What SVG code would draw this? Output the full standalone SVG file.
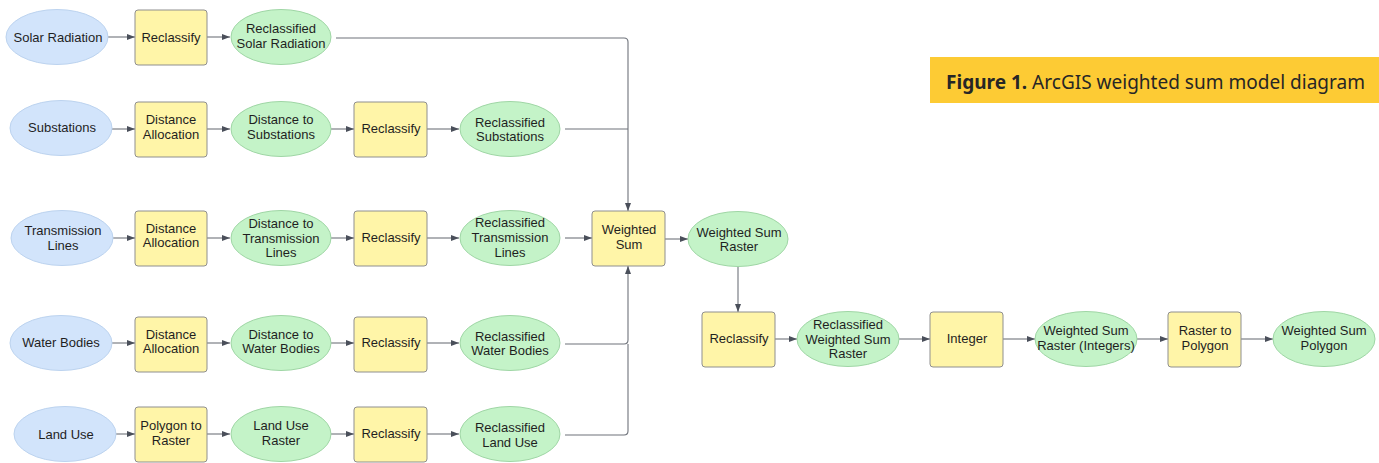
<svg xmlns="http://www.w3.org/2000/svg" width="1379" height="463" viewBox="0 0 1379 463">
<defs>
<marker id="ah" markerWidth="8" markerHeight="6" refX="8" refY="3" orient="auto" markerUnits="userSpaceOnUse">
<path d="M0,0 L8,3 L0,6 Z" fill="#4a4f5a"/>
</marker>
<style>
.in{fill:#d2e4fb;stroke:#bcd3ef;stroke-width:1}
.out{fill:#c4f3c8;stroke:#9fd6a5;stroke-width:1}
.tool{fill:#fff5a8;stroke:#8f8f8f;stroke-width:1}
text{font-family:"Liberation Sans",Arial,sans-serif;font-size:13px;fill:#1f1f1f;text-anchor:middle}
.c{fill:none;stroke:#6f737b;stroke-width:1.1}
.a{marker-end:url(#ah)}
.title{font-family:"Noto Sans","Open Sans",sans-serif;font-size:19px;fill:#262626;text-anchor:start}
</style>
</defs>
<rect width="1379" height="463" fill="#ffffff"/>

<g id="title">
<rect x="930" y="57" width="449" height="46" fill="#fdcb34"/>
<text class="title" x="946" y="89" textLength="419" lengthAdjust="spacingAndGlyphs"><tspan font-weight="bold">Figure 1.</tspan> ArcGIS weighted sum model diagram</text>
</g>

<g id="connectors">
<line class="c a" x1="107" y1="37" x2="135" y2="37"/>
<line class="c a" x1="207" y1="37" x2="230" y2="37"/>
<path class="c a" d="M336,38 H624 Q628,38 628,42 V211"/>

<line class="c a" x1="112" y1="129" x2="135" y2="129"/>
<line class="c a" x1="207" y1="129" x2="230" y2="129"/>
<line class="c a" x1="331" y1="129" x2="354" y2="129"/>
<line class="c a" x1="427" y1="129" x2="459" y2="129"/>
<path class="c" d="M565,129 H628"/>

<line class="c a" x1="112" y1="238" x2="135" y2="238"/>
<line class="c a" x1="207" y1="238" x2="230" y2="238"/>
<line class="c a" x1="331" y1="238" x2="354" y2="238"/>
<line class="c a" x1="427" y1="238" x2="459" y2="238"/>
<line class="c a" x1="565" y1="238" x2="592" y2="238"/>
<line class="c a" x1="665" y1="239" x2="688" y2="239"/>
<line class="c a" x1="738" y1="266" x2="738" y2="312"/>

<line class="c a" x1="112" y1="343" x2="135" y2="343"/>
<line class="c a" x1="207" y1="343" x2="230" y2="343"/>
<line class="c a" x1="331" y1="343" x2="354" y2="343"/>
<line class="c a" x1="427" y1="343" x2="459" y2="343"/>
<path class="c a" d="M565,344 H624 Q628,344 628,340 V266"/>

<line class="c a" x1="115" y1="434" x2="135" y2="434"/>
<line class="c a" x1="207" y1="434" x2="230" y2="434"/>
<line class="c a" x1="331" y1="434" x2="354" y2="434"/>
<line class="c a" x1="427" y1="434" x2="459" y2="434"/>
<path class="c" d="M565,435 H624 Q628,435 628,431 V344"/>

<line class="c a" x1="775" y1="339" x2="797" y2="339"/>
<line class="c a" x1="899" y1="339" x2="930" y2="339"/>
<line class="c a" x1="1003" y1="339" x2="1035" y2="339"/>
<line class="c a" x1="1137" y1="339" x2="1168" y2="339"/>
<line class="c a" x1="1241" y1="339" x2="1273" y2="339"/>
</g>

<g id="solar-radiation"><ellipse class="in" cx="57" cy="37" rx="51" ry="27.5"/><text x="58" y="42">Solar Radiation</text></g>
<g id="reclassify-1"><rect class="tool" x="135" y="10" width="72" height="55" rx="3"/><text x="171" y="42">Reclassify</text></g>
<g id="reclassified-solar"><ellipse class="out" cx="281" cy="37" rx="50" ry="27.5"/><text x="281" y="33">Reclassified</text><text x="281" y="48">Solar Radiation</text></g>

<g id="substations"><ellipse class="in" cx="61" cy="128" rx="51" ry="27.5"/><text x="62" y="132">Substations</text></g>
<g id="distance-allocation-1"><rect class="tool" x="135" y="102" width="72" height="55" rx="3"/><text x="171" y="124">Distance</text><text x="171" y="139">Allocation</text></g>
<g id="distance-substations"><ellipse class="out" cx="281" cy="129" rx="50" ry="27.5"/><text x="281" y="124">Distance to</text><text x="281" y="139">Substations</text></g>
<g id="reclassify-2"><rect class="tool" x="354" y="102" width="73" height="55" rx="3"/><text x="391" y="133">Reclassify</text></g>
<g id="reclassified-substations"><ellipse class="out" cx="510" cy="129" rx="50" ry="27.5"/><text x="510" y="127">Reclassified</text><text x="510" y="141">Substations</text></g>

<g id="transmission-lines"><ellipse class="in" cx="62" cy="238" rx="51" ry="27.5"/><text x="63" y="235">Transmission</text><text x="63" y="250">Lines</text></g>
<g id="distance-allocation-2"><rect class="tool" x="135" y="211" width="72" height="55" rx="3"/><text x="171" y="233">Distance</text><text x="171" y="247">Allocation</text></g>
<g id="distance-transmission"><ellipse class="out" cx="281" cy="238" rx="50" ry="27.5"/><text x="281" y="228">Distance to</text><text x="281" y="243">Transmission</text><text x="281" y="257">Lines</text></g>
<g id="reclassify-3"><rect class="tool" x="354" y="211" width="73" height="55" rx="3"/><text x="391" y="242">Reclassify</text></g>
<g id="reclassified-transmission"><ellipse class="out" cx="510" cy="238" rx="50" ry="27.5"/><text x="510" y="227">Reclassified</text><text x="510" y="242">Transmission</text><text x="510" y="257">Lines</text></g>

<g id="weighted-sum"><rect class="tool" x="592" y="211" width="73" height="55" rx="3"/><text x="629" y="234">Weighted</text><text x="629" y="249">Sum</text></g>
<g id="weighted-sum-raster"><ellipse class="out" cx="738" cy="239" rx="50" ry="27.5"/><text x="739" y="237">Weighted Sum</text><text x="739" y="251">Raster</text></g>

<g id="water-bodies"><ellipse class="in" cx="61" cy="343" rx="51" ry="27.5"/><text x="61" y="347">Water Bodies</text></g>
<g id="distance-allocation-3"><rect class="tool" x="135" y="317" width="72" height="55" rx="3"/><text x="171" y="339">Distance</text><text x="171" y="353">Allocation</text></g>
<g id="distance-water"><ellipse class="out" cx="281" cy="343" rx="50" ry="27.5"/><text x="281" y="339">Distance to</text><text x="281" y="353">Water Bodies</text></g>
<g id="reclassify-4"><rect class="tool" x="354" y="317" width="73" height="55" rx="3"/><text x="391" y="347">Reclassify</text></g>
<g id="reclassified-water"><ellipse class="out" cx="510" cy="343" rx="50" ry="27.5"/><text x="510" y="341">Reclassified</text><text x="510" y="355">Water Bodies</text></g>

<g id="land-use"><ellipse class="in" cx="65" cy="434" rx="51" ry="27.5"/><text x="66" y="439">Land Use</text></g>
<g id="polygon-to-raster"><rect class="tool" x="135" y="407" width="72" height="55" rx="3"/><text x="171" y="430">Polygon to</text><text x="171" y="445">Raster</text></g>
<g id="land-use-raster"><ellipse class="out" cx="281" cy="434" rx="50" ry="27.5"/><text x="281" y="430">Land Use</text><text x="281" y="445">Raster</text></g>
<g id="reclassify-5"><rect class="tool" x="354" y="407" width="73" height="55" rx="3"/><text x="391" y="438">Reclassify</text></g>
<g id="reclassified-land-use"><ellipse class="out" cx="510" cy="434" rx="50" ry="27.5"/><text x="510" y="432">Reclassified</text><text x="510" y="447">Land Use</text></g>

<g id="reclassify-6"><rect class="tool" x="702" y="312" width="73" height="55" rx="3"/><text x="739" y="343">Reclassify</text></g>
<g id="reclassified-ws-raster"><ellipse class="out" cx="848" cy="339" rx="51" ry="27.5"/><text x="848" y="329">Reclassified</text><text x="848" y="344">Weighted Sum</text><text x="848" y="358">Raster</text></g>
<g id="integer"><rect class="tool" x="930" y="312" width="73" height="55" rx="3"/><text x="967" y="343">Integer</text></g>
<g id="ws-raster-integers"><ellipse class="out" cx="1086" cy="339" rx="51" ry="27.5"/><text x="1086" y="335">Weighted Sum</text><text x="1086" y="350">Raster (Integers)</text></g>
<g id="raster-to-polygon"><rect class="tool" x="1168" y="312" width="73" height="55" rx="3"/><text x="1205" y="335">Raster to</text><text x="1205" y="350">Polygon</text></g>
<g id="ws-polygon"><ellipse class="out" cx="1324" cy="339" rx="51" ry="27.5"/><text x="1324" y="335">Weighted Sum</text><text x="1324" y="350">Polygon</text></g>
</svg>
